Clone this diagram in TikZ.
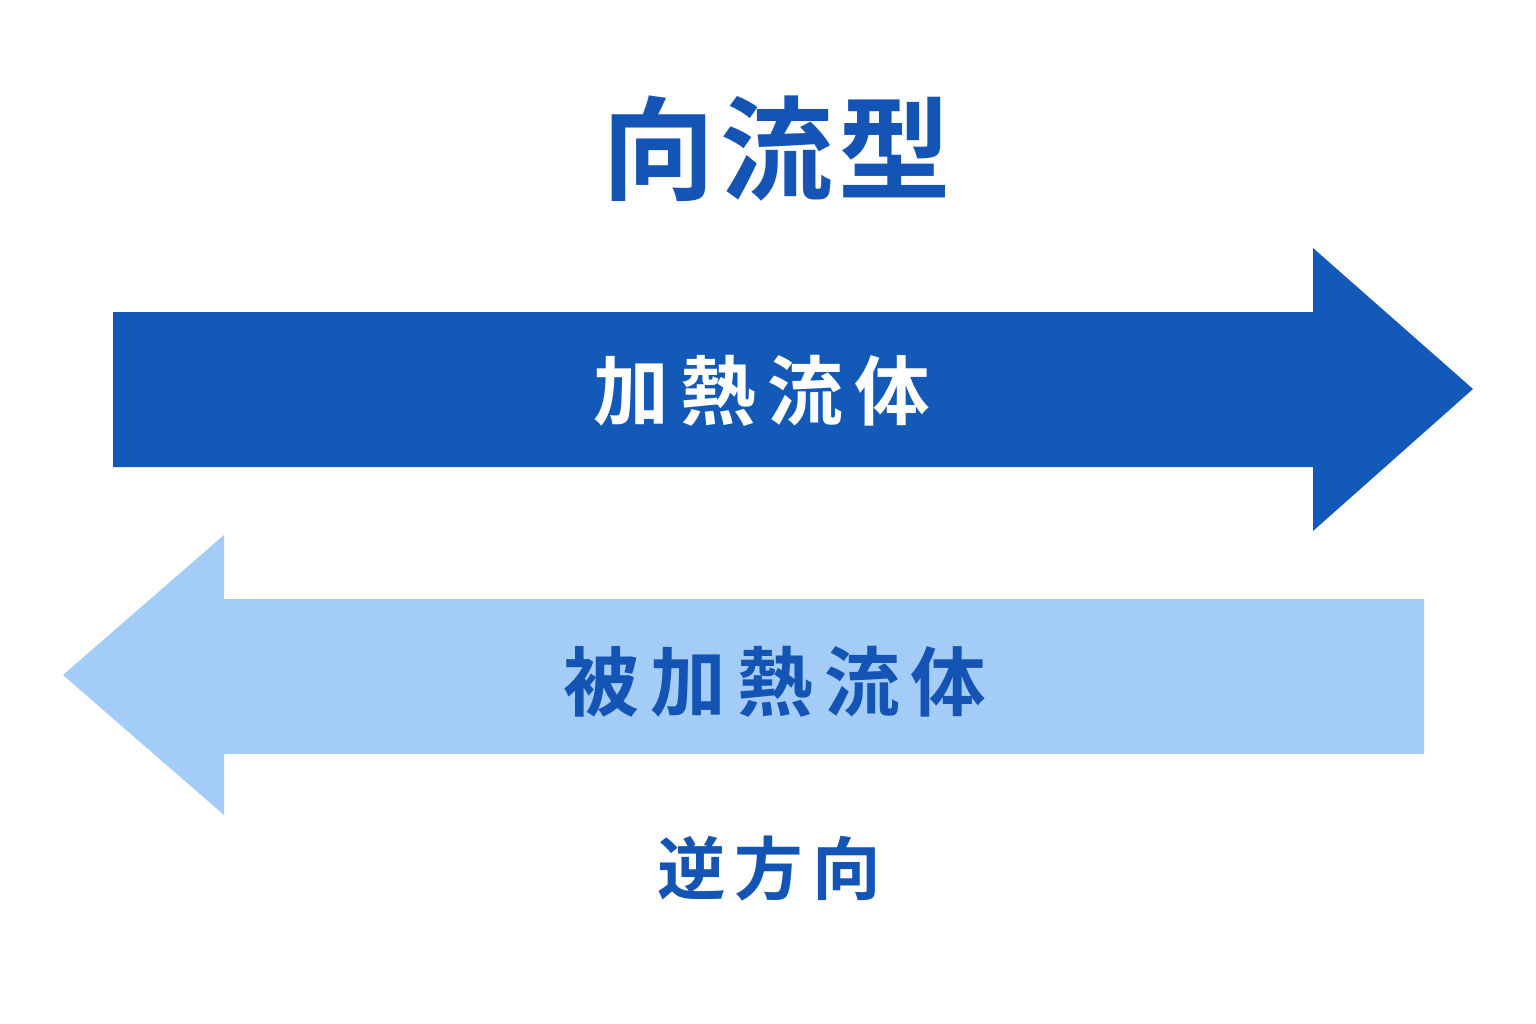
\documentclass[tikz,border=0pt]{standalone}
\usepackage{fontspec}
\newfontfamily\jp{Noto Sans CJK JP Bold}
\definecolor{darkblue}{HTML}{1259B8}
\definecolor{lightblue}{HTML}{A3CDF7}
\definecolor{textblue}{HTML}{1454B4}
\newcommand{\gapx}[1]{\hspace{#1}}
\begin{document}
\begin{tikzpicture}[x=0.01cm,y=-0.01cm,
  lbl/.style={inner sep=0pt,font=\jp}]
\useasboundingbox (0,0) rectangle (1536,1024);
\fill[white] (0,0) rectangle (1536,1024);
% top arrow (heating fluid)
\fill[darkblue] (113,312) -- (1313,312) -- (1313,248) -- (1473,389) -- (1313,531) -- (1313,467) -- (113,467) -- cycle;
% bottom arrow (heated fluid)
\fill[lightblue] (1424,599) -- (224,599) -- (224,535) -- (63,675) -- (224,815) -- (224,754) -- (1424,754) -- cycle;
\node[lbl,text=textblue,font=\jp\fontsize{32pt}{36pt}\selectfont] (title) at (777,149) {向\gapx{1.5pt}流\gapx{1.5pt}型};
\node[lbl,text=white,font=\jp\fontsize{21.5pt}{24pt}\selectfont] (hot) at (762,391) {加\gapx{3.2pt}熱\gapx{3.2pt}流\gapx{3.2pt}体};
\node[lbl,text=textblue,font=\jp\fontsize{21.5pt}{24pt}\selectfont] (cold) at (775,682) {被\gapx{3.2pt}加\gapx{3.2pt}熱\gapx{3.2pt}流\gapx{3.2pt}体};
\node[lbl,text=textblue,font=\jp\fontsize{19.5pt}{22pt}\selectfont] (dir) at (769,869) {逆\gapx{2.5pt}方\gapx{2.5pt}向};
\end{tikzpicture}
\end{document}
